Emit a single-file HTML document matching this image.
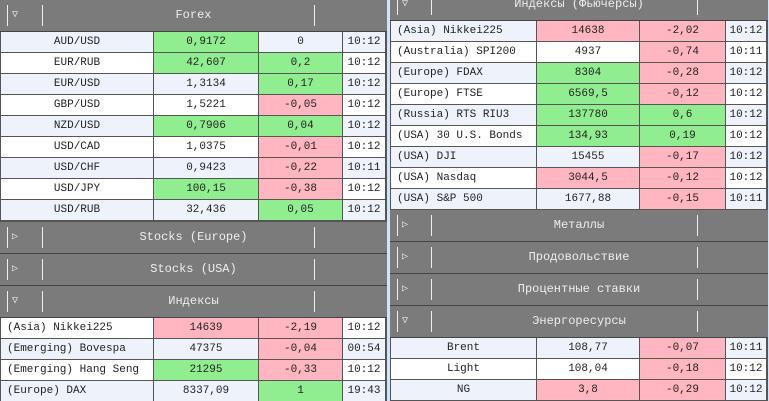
<!DOCTYPE html>
<html><head><meta charset="utf-8"><style>
body{margin:0;width:769px;height:401px;overflow:hidden;background:#cfe4fa;position:relative;font-family:"Liberation Mono","DejaVu Sans Mono",monospace;font-size:11px;color:#222}
.p{position:absolute;background:#555;overflow:hidden}
.c{position:absolute;box-sizing:border-box;border-right:1px solid #555;border-bottom:1px solid #555;text-align:center;white-space:nowrap}
.h{position:absolute;box-sizing:border-box;background:#7b7b7b;border-bottom:1px solid #444;color:#eee;font-size:12px;text-align:center}
.s{position:absolute;width:1px;background:#eee;top:5px;bottom:5px}
.g{background:#90ee90}.r{background:#ffb6c1}.w{background:#fff}.l{background:#eef3fb}
</style></head><body>
<div id="L" class="p" style="left:0;top:0;width:387px;height:401px"></div>
<div id="R" class="p" style="left:390px;top:0;width:378px;height:401px"></div>
<script>
const leftSections=[
 {t:"Forex",y:0,open:true,center:true,rows:[
  ["AUD/USD","0,9172","0","10:12","g","l"],["EUR/RUB","42,607","0,2","10:12","g","g"],["EUR/USD","1,3134","0,17","10:12","l","g"],
  ["GBP/USD","1,5221","-0,05","10:12","w","r"],["NZD/USD","0,7906","0,04","10:12","g","g"],["USD/CAD","1,0375","-0,01","10:12","w","r"],
  ["USD/CHF","0,9423","-0,22","10:11","l","r"],["USD/JPY","100,15","-0,38","10:12","g","r"],["USD/RUB","32,436","0,05","10:12","l","g"]]},
 {t:"Stocks (Europe)",y:222,open:false,rows:[]},
 {t:"Stocks (USA)",y:254,open:false,rows:[]},
 {t:"Индексы",y:286,open:true,center:false,rows:[
  ["(Asia) Nikkei225","14639","-2,19","10:12","r","r"],["(Emerging) Bovespa","47375","-0,04","00:54","l","r"],
  ["(Emerging) Hang Seng","21295","-0,33","10:12","g","r"],["(Europe) DAX","8337,09","1","19:43","l","g"]]}];
const rightSections=[
 {t:"Индексы (Фьючерсы)",y:-11,open:true,center:false,rows:[
  ["(Asia) Nikkei225","14638","-2,02","10:12","r","r"],["(Australia) SPI200","4937","-0,74","10:11","w","r"],
  ["(Europe) FDAX","8304","-0,28","10:12","g","r"],["(Europe) FTSE","6569,5","-0,12","10:12","g","r"],
  ["(Russia) RTS RIU3","137780","0,6","10:12","g","g"],["(USA) 30 U.S. Bonds","134,93","0,19","10:12","g","g"],
  ["(USA) DJI","15455","-0,17","10:12","w","r"],["(USA) Nasdaq","3044,5","-0,12","10:12","r","r"],["(USA) S&P 500","1677,88","-0,15","10:11","l","r"]]},
 {t:"Металлы",y:210,open:false,rows:[]},
 {t:"Продовольствие",y:242,open:false,rows:[]},
 {t:"Процентные ставки",y:274,open:false,rows:[]},
 {t:"Энергоресурсы",y:306,open:true,center:true,rows:[
  ["Brent","108,77","-0,07","10:11","l","r"],["Light","108,04","-0,18","10:12","w","r"],["NG","3,8","-0,29","10:12","r","r"]]}];
function build(panel,secs,cols,sep,startShade){
  let shade=0;
  secs.forEach((s)=>{
    const h=document.createElement('div');h.className='h';
    
    
    h.style.cssText=`left:0;top:${s.y}px;width:100%;height:32px;line-height:31px`;
    h.textContent=s.t;
    sep.forEach(x=>{const d=document.createElement('div');d.className='s';d.style.left=x+'px';h.appendChild(d);});
    const ic=document.createElement('div');
    
    
    ic.style.cssText='position:absolute;left:12px;top:0;font-size:10px;color:#eee';
    ic.textContent=s.open?'▽':'▷';
    h.appendChild(ic);
    panel.appendChild(h);
    s.rows.forEach((r,i)=>{
      const y=s.y+32+i*21;const alt=(i%2==0)?'l':'w';
      const base=(startShade&&i%2==0)||(!startShade&&i%2==1)?'l':'w';
      const b=s===secs[0]&&panel.id=='L'?(i%2==0?'l':'w'):(s.t=="Индексы"?(i%2==0?'w':'l'):(i%2==0?'l':'w'));
      for(let k=0;k<4;k++){
        const c=document.createElement('div');c.className='c';
        
        
        let cls=b;if(k==1&&r[4]!='w'&&r[4]!='l')cls=r[4];if(k==2&&r[5]!='w'&&r[5]!='l')cls=r[5];
        if(k==3)cls=b;
        c.classList.add(cls);
        c.style.cssText=`left:${cols[k]}px;top:${y}px;width:${cols[k+1]-cols[k]}px;height:21px;line-height:20px`;
        if(k==0){c.style.left='1px';c.style.width=(cols[1]-1)+'px';if(!s.center){c.style.textAlign='left';c.style.paddingLeft='6px';}}
        c.textContent=r[k];
        panel.appendChild(c);
      }
    });
  });
}
build(document.getElementById('L'),leftSections,[0,154,259,343,386],[7,42,314],1);
build(document.getElementById('R'),rightSections,[0,147,250,336,377],[7,41,307],1);
</script>
</body></html>
